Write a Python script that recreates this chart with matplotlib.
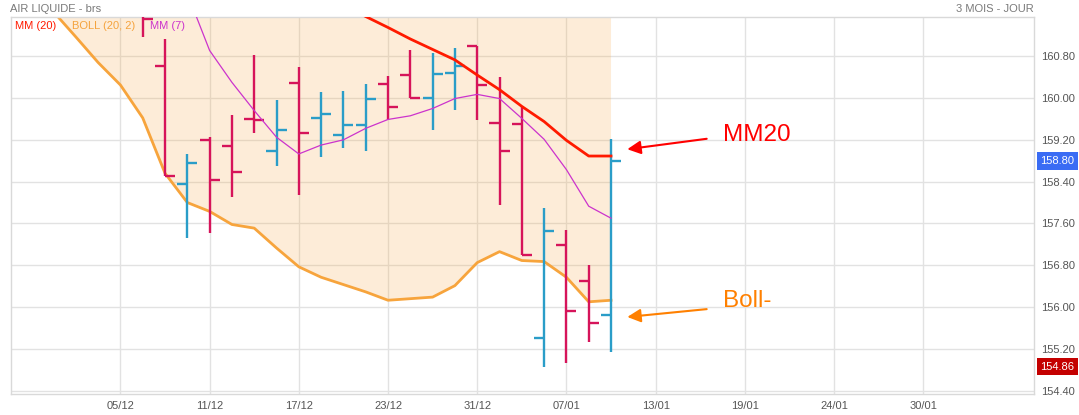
import matplotlib
matplotlib.use("Agg")
import matplotlib.pyplot as plt
import numpy as np

plt.rcParams['font.family'] = ['Liberation Sans', 'DejaVu Sans']

# ---------------- data ----------------
# bar index (0 = 05/12)
bar_idx = list(range(1, 23))
opens  = [161.75, 160.61, 158.35, 159.19, 159.08, 159.59, 158.98, 160.28, 159.61, 159.30,
          159.49, 160.26, 160.44, 160.01, 160.47, 161.00, 159.52, 159.50, 155.40, 157.18,
          156.49, 155.84]
highs  = [161.80, 161.13, 158.93, 159.25, 159.68, 160.83, 159.97, 160.59, 160.11, 160.14,
          160.26, 160.43, 160.91, 160.86, 160.96, 161.00, 160.41, 159.84, 157.90, 157.48,
          156.81, 159.22]
lows   = [161.16, 158.50, 157.32, 157.42, 158.10, 159.33, 158.69, 158.15, 158.87, 159.04,
          158.98, 159.58, 160.01, 159.39, 159.77, 159.58, 157.95, 156.99, 154.86, 154.92,
          155.33, 155.13]
closes = [161.52, 158.50, 158.75, 158.44, 158.59, 159.57, 159.38, 159.33, 159.69, 159.49,
          159.99, 159.82, 160.01, 160.46, 160.62, 160.24, 158.98, 156.99, 157.46, 155.92,
          155.70, 158.80]

band_idx = list(range(-4, 23))
boll_low = [162.10, 161.65, 161.17, 160.68, 160.25, 159.62, 158.56, 158.00, 157.83, 157.58,
            157.51, 157.13, 156.77, 156.57, 156.43, 156.29, 156.13, 156.16, 156.19, 156.41,
            156.85, 157.06, 156.89, 156.87, 156.57, 156.10, 156.13]
boll_up  = [168.0, 168.0, 168.0, 168.0, 168.0, 168.0, 168.0, 168.0, 168.0, 168.0,
            167.8, 167.5, 167.3, 167.1, 166.9, 166.8, 166.57, 166.10, 165.67, 165.05,
            164.03, 163.26, 162.79, 162.23, 161.81, 161.68, 161.65]

mm20_idx = list(range(10, 23))
mm20 = [161.78, 161.56, 161.35, 161.13, 160.93, 160.73, 160.44, 160.16, 159.84, 159.55,
        159.19, 158.89, 158.89]

mm7_idx = list(range(3, 23))
mm7 = [162.00, 160.91, 160.30, 159.76, 159.25, 158.93, 159.10, 159.20, 159.42, 159.59,
       159.66, 159.80, 159.99, 160.07, 159.99, 159.61, 159.21, 158.63, 157.93, 157.70]

x_tick_pos = [0, 4, 8, 12, 16, 20, 24, 28, 32, 36]
x_tick_labels = ['05/12', '11/12', '17/12', '23/12', '31/12', '07/01', '13/01', '19/01', '24/01', '30/01']
y_ticks = [154.40, 155.20, 156.00, 156.80, 157.60, 158.40, 159.20, 160.00, 160.80]

last_close = 158.80
period_low = 154.86

# ---------------- colours ----------------
RED_BAR = '#d6145a'
BLUE_BAR = '#2a9dc8'
MM20_C = '#ff1a00'
MM7_C = '#cc33cc'
BOLL_C = '#f7a43c'
GRID_C = '#e2e2e2'
TXT_C = '#555555'

W, H = 1079, 415
fig = plt.figure(figsize=(W / 100, H / 100), dpi=100)
L, R, T, B = 10.7, 1034.5, 17.3, 394.3
ax = fig.add_axes([L / W, (H - B) / H, (R - L) / W, (B - T) / H])
ax.set_xlim(-4.92, 40.99)
ax.set_ylim(154.33, 161.545)

# grid
ax.set_axisbelow(True)
ax.grid(True, color=GRID_C, lw=1.0, zorder=0)
for s in ax.spines.values():
    s.set_color('#d9d9d9')
    s.set_linewidth(1.0)

# bollinger
ax.fill_between(band_idx, boll_low, boll_up, color=BOLL_C, alpha=0.2, lw=0, zorder=1)
ax.plot(band_idx, boll_low, color=BOLL_C, lw=2.0, zorder=2, solid_joinstyle='round')

# OHLC bars
tw = 0.45
for x, o, h, l, c in zip(bar_idx, opens, highs, lows, closes):
    col = BLUE_BAR if c >= o else RED_BAR
    ax.vlines(x, l, h, color=col, lw=1.7, zorder=3)
    ax.hlines(o, x - tw, x, color=col, lw=1.7, zorder=3)
    ax.hlines(c, x, x + tw, color=col, lw=1.7, zorder=3)

# moving averages
ax.plot(mm7_idx, mm7, color=MM7_C, lw=0.9, zorder=4)
ax.plot(mm20_idx, mm20, color=MM20_C, lw=2.0, zorder=5)

# axes ticks
ax.set_xticks(x_tick_pos)
ax.set_xticklabels(x_tick_labels)
ax.set_yticks(y_ticks)
ax.set_yticklabels([f'{v:.2f}' for v in y_ticks])
ax.yaxis.tick_right()
ax.tick_params(axis='both', length=0, labelsize=8, labelcolor=TXT_C)
ax.tick_params(axis='y', pad=4.5)
ax.tick_params(axis='x', pad=5)

# price boxes on the right axis
for val, fc in [(last_close, '#3a6cf4'), (period_low, '#c40000')]:
    ax.annotate(f'{val:.2f}', xy=(1, val), xycoords=('axes fraction', 'data'),
                xytext=(23, 0), textcoords='offset pixels', ha='center', va='center',
                fontsize=8, color='white', annotation_clip=False,
                bbox=dict(boxstyle='square,pad=0.35', fc=fc, ec='none'))

# titles
fig.text(10 / W, 1 - 8.5 / H, 'AIR LIQUIDE - brs', fontsize=8, color='#7a7a7a', ha='left', va='center')
fig.text(1034 / W, 1 - 8.5 / H, '3 MOIS - JOUR', fontsize=8, color='#7a7a7a', ha='right', va='center')

# legend texts
fig.text(15 / W, 1 - 26 / H, 'MM (20)', fontsize=8, color='#ff1a00', ha='left', va='center')
fig.text(72 / W, 1 - 26 / H, 'BOLL (20, 2)', fontsize=8, color='#f5a33d', ha='left', va='center')
fig.text(150 / W, 1 - 26 / H, 'MM (7)', fontsize=8, color='#cc33cc', ha='left', va='center')

# annotations
ax.annotate('', xy=(22.73, 159.02), xytext=(26.29, 159.22),
            arrowprops=dict(arrowstyle='-|>', color='#ff0000', lw=1.5, mutation_scale=20,
                            shrinkA=0, shrinkB=0))
ax.text(27.03, 159.30, 'MM20', fontsize=17.5, color='#ff0000', ha='left', va='center')
ax.annotate('', xy=(22.73, 155.81), xytext=(26.29, 155.96),
            arrowprops=dict(arrowstyle='-|>', color='#ff8000', lw=1.5, mutation_scale=20,
                            shrinkA=0, shrinkB=0))
ax.text(27.03, 156.11, 'Boll-', fontsize=17.5, color='#ff8000', ha='left', va='center')

fig.savefig('out.png', dpi=100)
